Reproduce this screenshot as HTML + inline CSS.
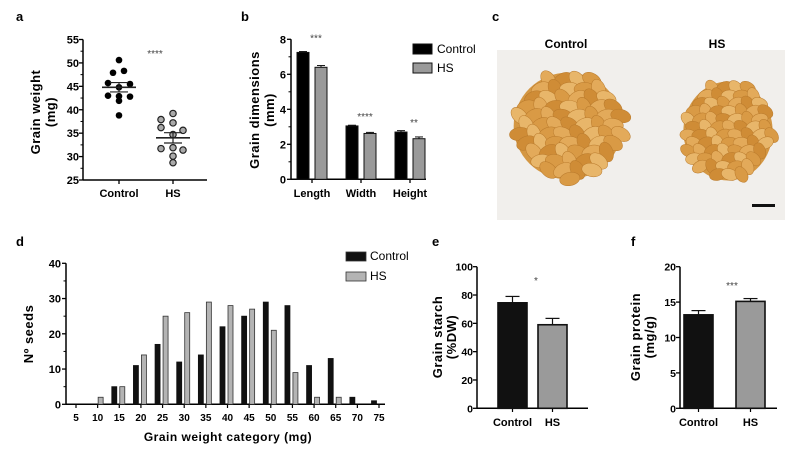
<!DOCTYPE html>
<html><head><meta charset="utf-8"><style>
html,body{margin:0;padding:0;background:#fff;}
svg{display:block;font-family:"Liberation Sans",Arial,sans-serif;}
.b{font-weight:bold;}
</style></head><body>
<svg id="fig" width="796" height="451" viewBox="0 0 796 451" xmlns="http://www.w3.org/2000/svg">
<g id="pa"></g>
<g id="pb"></g>
<g id="pc"></g>
<g id="pd"></g>
<g id="pe"></g>
<g id="pf"></g>
</svg>
<script>
// ---- data ----
const aCtrl = [50.6,47.9,48.3,45.7,45.5,44.8,43.0,42.9,42.8,41.9,38.8];
const aCtrlDx = [0,-6,5,-11,11,0,-11,0,11,0,0];
const aHS = [39.2,37.9,37.2,36.2,35.6,34.7,31.7,31.9,31.4,30.1,28.7];
const aHSDx = [0,-12,0,-12,10,0,-12,0,10,0,0];
const aMean = [44.8,34.0];
const aSem = [1.0,1.1];
const aTicks = [25,30,35,40,45,50,55];

const bCats = ["Length","Width","Height"];
const bCtrl = [7.25,3.05,2.7];
const bHS = [6.4,2.62,2.32];
const bCtrlErr = [0.05,0.04,0.08];
const bHSErr = [0.1,0.06,0.1];
const bStars = ["***","****","**"];
const bTicks = [0,2,4,6,8];

const dCats = [5,10,15,20,25,30,35,40,45,50,55,60,65,70,75];
const dCtrl = [0,0,5,11,17,12,14,22,25,29,28,11,13,2,1];
const dHS = [0,2,5,14,25,26,29,28,27,21,9,2,2,0,0];
const dTicks = [0,10,20,30,40];

const eCats = ["Control","HS"];
const eVals = [74.5,59];
const eErr = [4.5,4.5];
const eTicks = [0,20,40,60,80,100];

const fCats = ["Control","HS"];
const fVals = [13.2,15.1];
const fErr = [0.6,0.4];
const fTicks = [0,5,10,15,20];

const NS="http://www.w3.org/2000/svg";
function el(p,tag,at,txt){const e=document.createElementNS(NS,tag);for(const k in at)e.setAttribute(k,at[k]);if(txt!==undefined)e.textContent=txt;p.appendChild(e);return e;}
function lin(d0,d1,r0,r1){return v=>r0+(v-d0)*(r1-r0)/(d1-d0);}

function yAxis(g,x,y,ticks,fs,minor,gap){
  const ax=el(g,'line',{x1:x,x2:x,y1:y(ticks[ticks.length-1]),y2:y(ticks[0]),stroke:'#000','stroke-width':1.5});
  
  
  ticks.forEach((t,i)=>{
    el(g,'line',{x1:x-4,x2:x,y1:y(t),y2:y(t),stroke:'#000','stroke-width':1.3});
    if(minor&&i<ticks.length-1){const m=(t+ticks[i+1])/2;el(g,'line',{x1:x-2.5,x2:x,y1:y(m),y2:y(m),stroke:'#000','stroke-width':1});}
    const tl=el(g,'text',{x:x-(gap||6),y:y(t)+4,'text-anchor':'end','font-size':fs,'class':'b'},t);
    
    
  });
}
function xAxis(g,x0,x1,y){
  const ax=el(g,'line',{x1:x0,x2:x1,y1:y,y2:y,stroke:'#000','stroke-width':1.5});
  
  
}
function yTitle(g,x,y,lines,fs,sp){
  lines.forEach((s,i)=>{
    const t=el(g,'text',{x:0,y:0,transform:`translate(${x+i*(sp||15)},${y}) rotate(-90)`,'text-anchor':'middle','font-size':fs,'class':'b','letter-spacing':'0.5'},s);
    
    
  });
}
function label(g,x,y,s){const t=el(g,'text',{x:x,y:y,'font-size':13,'class':'b'},s);
  
  }
function stars(g,x,y,s){const t=el(g,'text',{x:x,y:y,'text-anchor':'middle','font-size':10,fill:'#444'},s);
  
  }

// ---- panel a ----
(function(){
  const g=document.getElementById('pa');
  label(g,16,21,'a');
  const y=lin(25,55,180,39.5);
  yAxis(g,83,y,aTicks,11,true,4);
  xAxis(g,83,207,180);
  const xs=[119,173];
  xs.forEach(x=>el(g,'line',{x1:x,x2:x,y1:180,y2:184,stroke:'#000','stroke-width':1.3}));
  ["Control","HS"].forEach((s,i)=>{const t=el(g,'text',{x:xs[i],y:197,'text-anchor':'middle','font-size':11,'class':'b'},s);
    
    });
  yTitle(g,40,112,["Grain weight","(mg)"],13);
  aCtrl.forEach((v,i)=>{const c=el(g,'circle',{cx:xs[0]+aCtrlDx[i],cy:y(v),r:3.3,fill:'#000'});
    
    });
  aHS.forEach((v,i)=>{const c=el(g,'circle',{cx:xs[1]+aHSDx[i],cy:y(v),r:3.2,fill:'#aaa',stroke:'#222','stroke-width':1.2});
    
    });
  aMean.forEach((m,i)=>{
    const x=xs[i];
    const ml=el(g,'line',{x1:x-17,x2:x+17,y1:y(m),y2:y(m),stroke:'#222','stroke-width':1.6});
    
    
    el(g,'line',{x1:x,x2:x,y1:y(m-aSem[i]),y2:y(m+aSem[i]),stroke:'#222','stroke-width':1.2});
    [m-aSem[i],m+aSem[i]].forEach(v=>el(g,'line',{x1:x-9,x2:x+9,y1:y(v),y2:y(v),stroke:'#222','stroke-width':1.2}));
  });
  stars(g,155,57,'****');
})();

// ---- panel b ----
(function(){
  const g=document.getElementById('pb');
  label(g,241,21,'b');
  const y=lin(0,8,179.3,39.3);
  yAxis(g,291,y,bTicks,11,true,5);
  xAxis(g,291,426,179.3);
  const centers=[312,361,410];
  bCats.forEach((c,i)=>{
    const cx=centers[i];
    el(g,'line',{x1:cx,x2:cx,y1:179,y2:183,stroke:'#000','stroke-width':1.3});
    const t=el(g,'text',{x:cx,y:197,'text-anchor':'middle','font-size':11,'class':'b'},c);
    
    
    [[bCtrl[i],bCtrlErr[i],cx-15,'#000'],[bHS[i],bHSErr[i],cx+3,'#9a9a9a']].forEach(([v,e,x,f],j)=>{
      const r=el(g,'rect',{x:x,y:y(v),width:12,height:179.3-y(v),fill:f,stroke:'#111','stroke-width':1});
      
      
      el(g,'line',{x1:x+6,x2:x+6,y1:y(v),y2:y(v+e),stroke:'#111','stroke-width':1});
      el(g,'line',{x1:x+2,x2:x+10,y1:y(v+e),y2:y(v+e),stroke:'#111','stroke-width':1});
    });
    stars(g,cx+4,y(bCtrl[i])-6-(i===0?5:0),bStars[i]);
  });
  yTitle(g,259,110,["Grain dimensions","(mm)"],13);
  [["Control","#000",49],["HS","#9a9a9a",68]].forEach(([s,f,yy])=>{
    const r=el(g,'rect',{x:413,y:yy-5,width:19,height:10,fill:f,stroke:'#111','stroke-width':1});
    
    
    const t=el(g,'text',{x:437,y:yy+4,'font-size':12},s);
    
    
  });
})();

// ---- panel c (photo illustration) ----
(function(){
  const g=document.getElementById('pc');
  label(g,492,21,'c');
  const bg=el(g,'rect',{x:497,y:50,width:288,height:170,fill:'#f1efec'});
  
  
  [["Control",566],["HS",717]].forEach(([s,x])=>{const t=el(g,'text',{x:x,y:48,'text-anchor':'middle','font-size':12,'class':'b'},s);
    
    });
  function pile(cx,cy,rx,ry,gw,gh,name){
    const pg=el(g,'g',{});
    
    
    el(pg,'ellipse',{cx:cx,cy:cy,rx:rx*0.97,ry:ry*0.97,fill:'#d49743'});
    let k=0;
    for(let yy=cy-ry;yy<=cy+ry;yy+=gh*0.75){
      const row=Math.round((yy-cy)/(gh*0.75));
      for(let xx=cx-rx+(row%2?gw*0.45:0);xx<=cx+rx;xx+=gw*0.85){
        const dx=(xx-cx)/rx,dy=(yy-cy)/ry;
        if(dx*dx+dy*dy>0.95)continue;
        k++;
        const ang=(Math.sin(k*2.3)*50)+20;
        const col=['#d99a45','#e3aa5a','#cf8c36','#e8b66a'][k%4];
        el(pg,'ellipse',{cx:xx,cy:yy,rx:gw*0.6,ry:gh*0.55,fill:col,stroke:'#b97a2c','stroke-width':0.5,transform:`rotate(${ang} ${xx} ${yy})`});
      }
    }
  }
  pile(568,126,56,55,17,12,'control-grains');
  pile(728,131,46,51,14,10.5,'hs-grains');
  const sb=el(g,'rect',{x:752,y:204,width:23,height:3,fill:'#111'});
  
  
})();

// ---- panel d ----
(function(){
  const g=document.getElementById('pd');
  label(g,16,246,'d');
  const y=lin(0,40,404.3,263.3);
  yAxis(g,66,y,dTicks,11,true,5);
  xAxis(g,66,385,404.3);
  const x=lin(5,75,76,379);
  dCats.forEach((c,i)=>{
    const cx=x(c);
    el(g,'line',{x1:cx,x2:cx,y1:404,y2:408,stroke:'#000','stroke-width':1.2});
    const t=el(g,'text',{x:cx,y:421,'text-anchor':'middle','font-size':10,'class':'b'},c);
    
    
    if(dCtrl[i]>0){const r=el(g,'rect',{x:cx-7.5,y:y(dCtrl[i]),width:5,height:404.3-y(dCtrl[i]),fill:'#111',stroke:'#111','stroke-width':0.8});
      
      }
    if(dHS[i]>0){const r=el(g,'rect',{x:cx+0.5,y:y(dHS[i]),width:5,height:404.3-y(dHS[i]),fill:'#b4b4b4',stroke:'#333','stroke-width':0.8});
      
      }
  });
  const xt=el(g,'text',{x:228,y:441,'text-anchor':'middle','font-size':12,'class':'b','letter-spacing':'0.5'},'Grain weight category (mg)');
  
  
  yTitle(g,33,334,["Nº seeds"],13);
  [["Control","#111",256],["HS","#b4b4b4",276]].forEach(([s,f,yy])=>{
    const r=el(g,'rect',{x:346,y:yy-4,width:20,height:9,fill:f,stroke:'#333','stroke-width':0.8});
    
    
    const t=el(g,'text',{x:370,y:yy+4,'font-size':12},s);
    
    
  });
})();

// ---- panels e,f ----
function small(id,lab,lx,ax,axEnd,vals,errs,cats,ticks,max,bx,bw,starX,starY,starS,title,tx){
  const g=document.getElementById(id);
  label(g,lx,246,lab);
  const y=lin(0,max,408.3,266.7);
  yAxis(g,ax,y,ticks,10.5,false,4);
  xAxis(g,ax,axEnd,408.3);
  cats.forEach((c,i)=>{
    const x0=bx[i],cx=x0+bw/2;
    el(g,'line',{x1:cx,x2:cx,y1:408,y2:412,stroke:'#000','stroke-width':1.2});
    el(g,'line',{x1:cx,x2:cx,y1:y(vals[i]),y2:y(vals[i]+errs[i]),stroke:'#111','stroke-width':1.2});
    el(g,'line',{x1:cx-7,x2:cx+7,y1:y(vals[i]+errs[i]),y2:y(vals[i]+errs[i]),stroke:'#111','stroke-width':1.2});
    const r=el(g,'rect',{x:x0,y:y(vals[i]),width:bw,height:408.3-y(vals[i]),fill:i?'#9a9a9a':'#111',stroke:'#111','stroke-width':1.6});
    
    
    const t=el(g,'text',{x:cx,y:426,'text-anchor':'middle','font-size':11,'class':'b'},c);
    
    
  });
  stars(g,starX,starY,starS);
  yTitle(g,tx,337,title,13,14);
}
small('pe','e',432,477,588,eVals,eErr,eCats,eTicks,100,[498,538],29,536,284,'*',["Grain starch","(%DW)"],442);
small('pf','f',631,680,777,fVals,fErr,fCats,fTicks,20,[684,736],29,732,289,'***',["Grain protein","(mg/g)"],640);
</script>
</body></html>
